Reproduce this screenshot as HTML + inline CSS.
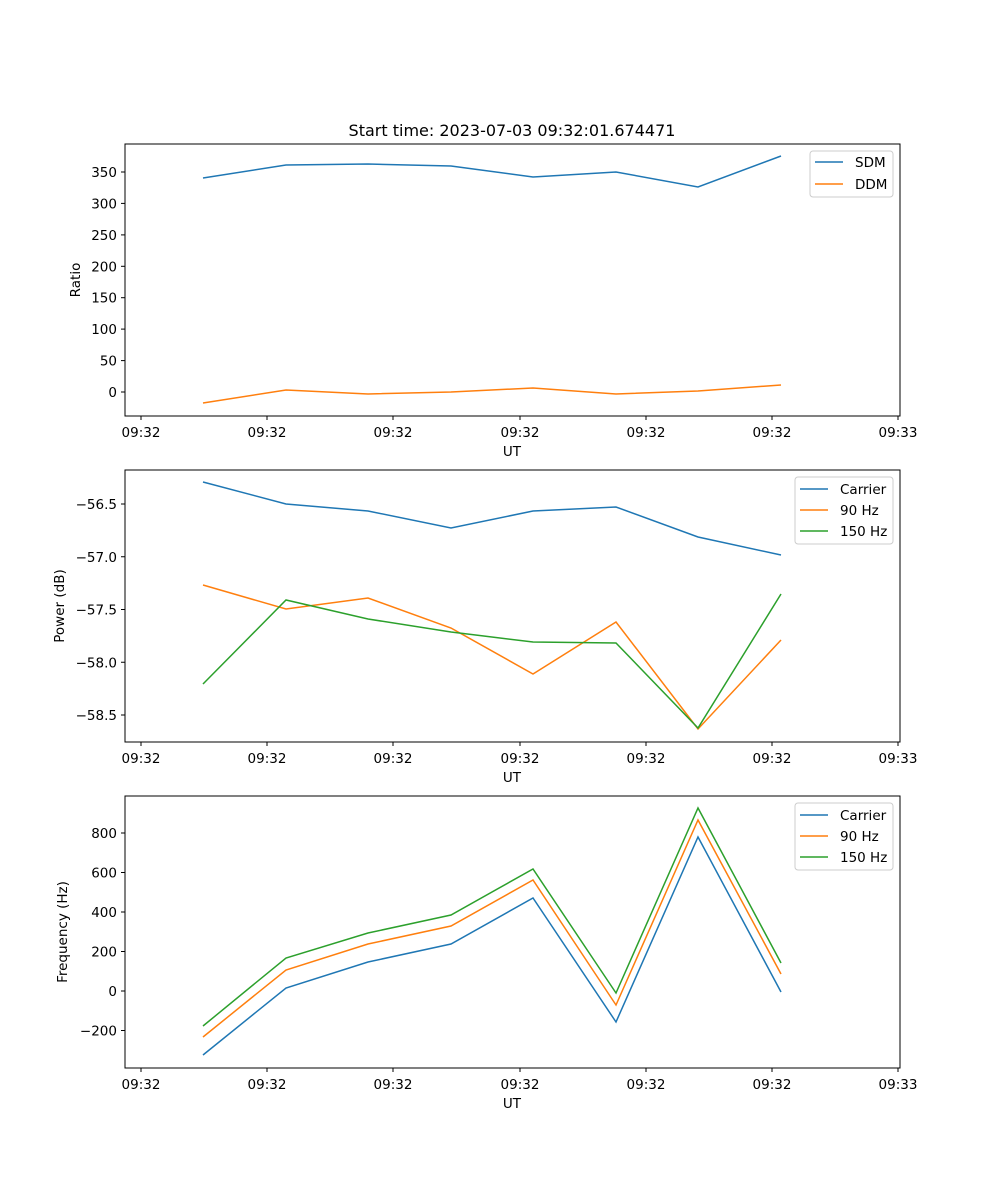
<!DOCTYPE html>
<html><head><meta charset="utf-8"><style>body{margin:0;background:#fff}svg{display:block}text{font-family:"DejaVu Sans","Liberation Sans",sans-serif;font-size:13.5px;fill:#000}</style></head>
<body>
<svg width="1000" height="1200" viewBox="0 0 1000 1200" xmlns="http://www.w3.org/2000/svg">
<rect width="1000" height="1200" fill="#fff"/>
<text x="512" y="136" text-anchor="middle" style="font-size:16px">Start time: 2023-07-03 09:32:01.674471</text>

<!-- Panel 1 -->
<g>
<rect x="125" y="144" width="775" height="272" fill="none" stroke="#000" stroke-width="1"/>
<g stroke="#000">
<line x1="141" y1="416" x2="141" y2="420"/><line x1="267" y1="416" x2="267" y2="420"/><line x1="393" y1="416" x2="393" y2="420"/><line x1="520" y1="416" x2="520" y2="420"/><line x1="646" y1="416" x2="646" y2="420"/><line x1="772" y1="416" x2="772" y2="420"/><line x1="898" y1="416" x2="898" y2="420"/>
<line x1="121" y1="392" x2="125" y2="392"/><line x1="121" y1="360.6" x2="125" y2="360.6"/><line x1="121" y1="329.1" x2="125" y2="329.1"/><line x1="121" y1="297.7" x2="125" y2="297.7"/><line x1="121" y1="266.3" x2="125" y2="266.3"/><line x1="121" y1="234.9" x2="125" y2="234.9"/><line x1="121" y1="203.4" x2="125" y2="203.4"/><line x1="121" y1="172" x2="125" y2="172"/>
</g>
<g text-anchor="middle"><text x="141" y="437">09:32</text><text x="267" y="437">09:32</text><text x="393" y="437">09:32</text><text x="520" y="437">09:32</text><text x="646" y="437">09:32</text><text x="772" y="437">09:32</text><text x="898" y="437">09:33</text><text x="512" y="456">UT</text></g>
<g text-anchor="end"><text x="117" y="397">0</text><text x="117" y="365.6">50</text><text x="117" y="334.1">100</text><text x="117" y="302.7">150</text><text x="117" y="271.3">200</text><text x="117" y="239.9">250</text><text x="117" y="208.4">300</text><text x="117" y="177">350</text></g>
<text transform="translate(80,280) rotate(-90)" text-anchor="middle">Ratio</text>
<polyline fill="none" stroke="#1f77b4" stroke-width="1.5" points="203,178 286,165 368,164 451,166 533,177 616,172 698,187 781,156"/>
<polyline fill="none" stroke="#ff7f0e" stroke-width="1.5" points="203,403 286,390 368,394 451,392 533,388 616,394 698,391 781,385"/>
<rect x="810" y="151" width="83" height="46" fill="#fff" stroke="#ccc" rx="3"/>
<line x1="815" y1="162" x2="843" y2="162" stroke="#1f77b4" stroke-width="1.5"/><text x="855" y="167">SDM</text>
<line x1="815" y1="184" x2="843" y2="184" stroke="#ff7f0e" stroke-width="1.5"/><text x="855" y="189">DDM</text>
</g>

<!-- Panel 2 -->
<g>
<rect x="125" y="470" width="775" height="272" fill="none" stroke="#000"/>
<g stroke="#000">
<line x1="141" y1="742" x2="141" y2="746"/><line x1="267" y1="742" x2="267" y2="746"/><line x1="393" y1="742" x2="393" y2="746"/><line x1="520" y1="742" x2="520" y2="746"/><line x1="646" y1="742" x2="646" y2="746"/><line x1="772" y1="742" x2="772" y2="746"/><line x1="898" y1="742" x2="898" y2="746"/>
<line x1="121" y1="504" x2="125" y2="504"/><line x1="121" y1="556.75" x2="125" y2="556.75"/><line x1="121" y1="609.5" x2="125" y2="609.5"/><line x1="121" y1="662.25" x2="125" y2="662.25"/><line x1="121" y1="715" x2="125" y2="715"/>
</g>
<g text-anchor="middle"><text x="141" y="763">09:32</text><text x="267" y="763">09:32</text><text x="393" y="763">09:32</text><text x="520" y="763">09:32</text><text x="646" y="763">09:32</text><text x="772" y="763">09:32</text><text x="898" y="763">09:33</text><text x="512" y="782">UT</text></g>
<g text-anchor="end"><text x="117" y="509">−56.5</text><text x="117" y="561.75">−57.0</text><text x="117" y="614.5">−57.5</text><text x="117" y="667.25">−58.0</text><text x="117" y="720">−58.5</text></g>
<text transform="translate(64,606) rotate(-90)" text-anchor="middle">Power (dB)</text>
<polyline fill="none" stroke="#1f77b4" stroke-width="1.5" points="203,482 286,504 368,511 451,528 533,511 616,507 698,537 781,555"/>
<polyline fill="none" stroke="#ff7f0e" stroke-width="1.5" points="203,585 286,609 368,598 451,628 533,674 616,622 698,729 781,640"/>
<polyline fill="none" stroke="#2ca02c" stroke-width="1.5" points="203,684 286,600 368,619 451,632 533,642 616,643 698,728 781,594"/>
<rect x="795" y="477" width="98" height="67" fill="#fff" stroke="#ccc" rx="3"/>
<line x1="800" y1="489" x2="828" y2="489" stroke="#1f77b4" stroke-width="1.5"/><text x="840" y="494">Carrier</text>
<line x1="800" y1="510" x2="828" y2="510" stroke="#ff7f0e" stroke-width="1.5"/><text x="840" y="515">90 Hz</text>
<line x1="800" y1="531" x2="828" y2="531" stroke="#2ca02c" stroke-width="1.5"/><text x="840" y="536">150 Hz</text>
</g>

<!-- Panel 3 -->
<g>
<rect x="125" y="796" width="775" height="272" fill="none" stroke="#000"/>
<g stroke="#000">
<line x1="141" y1="1068" x2="141" y2="1072"/><line x1="267" y1="1068" x2="267" y2="1072"/><line x1="393" y1="1068" x2="393" y2="1072"/><line x1="520" y1="1068" x2="520" y2="1072"/><line x1="646" y1="1068" x2="646" y2="1072"/><line x1="772" y1="1068" x2="772" y2="1072"/><line x1="898" y1="1068" x2="898" y2="1072"/>
<line x1="121" y1="1030.5" x2="125" y2="1030.5"/><line x1="121" y1="991" x2="125" y2="991"/><line x1="121" y1="951.5" x2="125" y2="951.5"/><line x1="121" y1="912" x2="125" y2="912"/><line x1="121" y1="872.5" x2="125" y2="872.5"/><line x1="121" y1="833" x2="125" y2="833"/>
</g>
<g text-anchor="middle"><text x="141" y="1089">09:32</text><text x="267" y="1089">09:32</text><text x="393" y="1089">09:32</text><text x="520" y="1089">09:32</text><text x="646" y="1089">09:32</text><text x="772" y="1089">09:32</text><text x="898" y="1089">09:33</text><text x="512" y="1108">UT</text></g>
<g text-anchor="end"><text x="117" y="1035.5">−200</text><text x="117" y="996">0</text><text x="117" y="956.5">200</text><text x="117" y="917">400</text><text x="117" y="877.5">600</text><text x="117" y="838">800</text></g>
<text transform="translate(67,932) rotate(-90)" text-anchor="middle">Frequency (Hz)</text>
<polyline fill="none" stroke="#1f77b4" stroke-width="1.5" points="203,1055 286,988 368,962 451,944 533,898 616,1022 698,837 781,992"/>
<polyline fill="none" stroke="#ff7f0e" stroke-width="1.5" points="203,1037 286,970 368,944 451,926 533,880 616,1005 698,820 781,974"/>
<polyline fill="none" stroke="#2ca02c" stroke-width="1.5" points="203,1026 286,958 368,933 451,915 533,869 616,993 698,808 781,963"/>
<rect x="795" y="803" width="98" height="67" fill="#fff" stroke="#ccc" rx="3"/>
<line x1="800" y1="815" x2="828" y2="815" stroke="#1f77b4" stroke-width="1.5"/><text x="840" y="820">Carrier</text>
<line x1="800" y1="836" x2="828" y2="836" stroke="#ff7f0e" stroke-width="1.5"/><text x="840" y="841">90 Hz</text>
<line x1="800" y1="857" x2="828" y2="857" stroke="#2ca02c" stroke-width="1.5"/><text x="840" y="862">150 Hz</text>
</g>
</svg>
</body></html>
